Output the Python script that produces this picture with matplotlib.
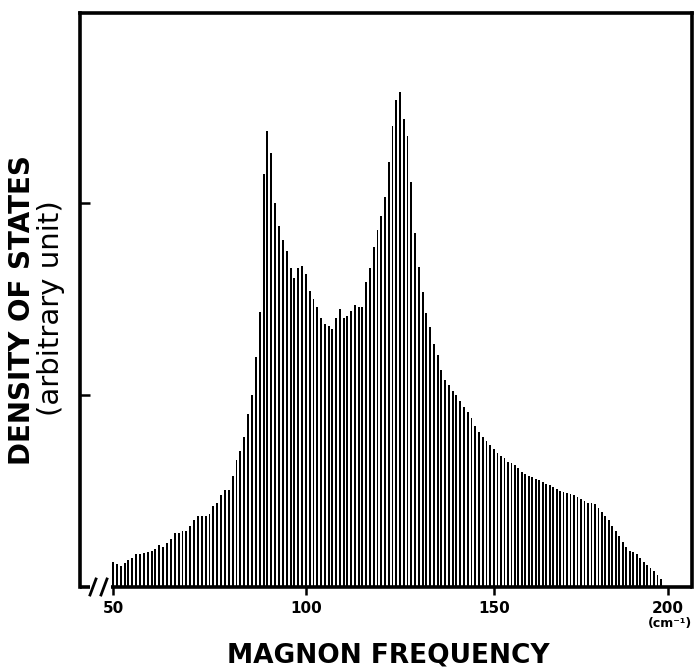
import matplotlib
matplotlib.use("Agg")
import matplotlib.pyplot as plt
import numpy as np

# magnon frequency bins (cm^-1) and density of states (arbitrary unit)
freq = list(range(50, 199))
dos = [
    0.13, 0.12, 0.11, 0.125, 0.14, 0.15, 0.17, 0.17, 0.175, 0.18,          # 50-59
    0.19, 0.20, 0.22, 0.21, 0.23, 0.25, 0.28, 0.28, 0.29, 0.29,            # 60-69
    0.32, 0.35, 0.37, 0.37, 0.37, 0.38, 0.42, 0.44, 0.48, 0.505,           # 70-79
    0.505, 0.58, 0.66, 0.71, 0.78, 0.90, 1.00, 1.20, 1.43, 2.15,           # 80-89
    2.375, 2.26, 2.00, 1.88, 1.81, 1.75, 1.66, 1.61, 1.66, 1.67,           # 90-99
    1.63, 1.54, 1.50, 1.46, 1.40, 1.37, 1.36, 1.345, 1.40, 1.45,           # 100-109
    1.40, 1.41, 1.44, 1.47, 1.46, 1.46, 1.59, 1.66, 1.77, 1.86,            # 110-119
    1.93, 2.03, 2.215, 2.40, 2.535, 2.58, 2.44, 2.35, 2.11, 1.845,         # 120-129
    1.665, 1.535, 1.425, 1.355, 1.265, 1.21, 1.13, 1.08, 1.05, 1.02,       # 130-139
    1.00, 0.97, 0.94, 0.91, 0.88, 0.84, 0.81, 0.78, 0.76, 0.74,            # 140-149
    0.72, 0.70, 0.68, 0.67, 0.65, 0.645, 0.635, 0.62, 0.60, 0.59,          # 150-159
    0.58, 0.575, 0.565, 0.555, 0.545, 0.535, 0.53, 0.52, 0.51, 0.50,       # 160-169
    0.495, 0.49, 0.485, 0.48, 0.47, 0.46, 0.45, 0.44, 0.435, 0.43,         # 170-179
    0.41, 0.39, 0.37, 0.35, 0.32, 0.29, 0.265, 0.236, 0.21, 0.19,          # 180-189
    0.18, 0.17, 0.15, 0.13, 0.115, 0.10, 0.085, 0.065, 0.04,               # 190-198
]
xticks = [50, 100, 150, 200]
xticklabels = ["50", "100", "150", "200"]
yticks = [1, 2]

# the hand-drawn frequency axis is slightly non-uniform: piecewise-linear scale
AX_F = [0.0, 50.0, 100.0, 150.0, 200.0, 300.0]
AX_P = [-80.0, 113.0, 306.0, 494.0, 668.0, 1016.0]


def fwd(v):
    return np.interp(v, AX_F, AX_P)


def inv(v):
    return np.interp(v, AX_P, AX_F)


W, H = 697, 671
fig = plt.figure(figsize=(W / 100, H / 100), dpi=100)
ax = fig.add_axes([80 / W, 1 - 587 / H, (692 - 80) / W, (587 - 13) / H])
ax.set_xscale("function", functions=(fwd, inv))

ax.bar(freq, dos, width=0.5, color="black", align="center")

ax.set_xlim(inv(80.0), inv(692.0))
ax.set_ylim(0, 2.99)

for s in ["left", "right", "top"]:
    ax.spines[s].set_linewidth(2.6)
ax.spines["bottom"].set_visible(False)

# bottom spine with axis-break marks
lw = 2.6
ax.plot([0.0, 10 / 612], [0, 0], color="black", lw=lw, transform=ax.transAxes,
        clip_on=False, solid_capstyle="butt")
ax.plot([31 / 612, 1.0], [0, 0], color="black", lw=lw, transform=ax.transAxes,
        clip_on=False, solid_capstyle="butt")
for cx in [93, 104]:
    ax.plot([(cx - 3 - 80) / 612, (cx + 3 - 80) / 612],
            [-8 / 574, 8 / 574], color="black", lw=2.0,
            transform=ax.transAxes, clip_on=False)

ax.set_xticks(xticks)
ax.set_xticklabels(xticklabels, fontsize=11, fontweight="bold")
ax.xaxis.set_minor_locator(matplotlib.ticker.NullLocator())
ax.tick_params(axis="x", direction="out", length=6, width=1.8, pad=4)
ax.set_yticks(yticks)
ax.set_yticklabels([])
ax.tick_params(axis="y", direction="in", length=7, width=1.8)

fig.text(670 / W, 1 - 623 / H, "(cm⁻¹)", ha="center", va="center",
         fontsize=9, fontweight="bold")
fig.text(388 / W, 1 - 655 / H, "MAGNON FREQUENCY", ha="center", va="center",
         fontsize=19, fontweight="bold")
fig.text(22 / W, 1 - 310 / H, "DENSITY OF STATES", ha="center", va="center",
         rotation=90, fontsize=20, fontweight="bold")
fig.text(51 / W, 1 - 308 / H, "(arbitrary unit)", ha="center", va="center",
         rotation=90, fontsize=21)

fig.savefig("out.png", dpi=100)
